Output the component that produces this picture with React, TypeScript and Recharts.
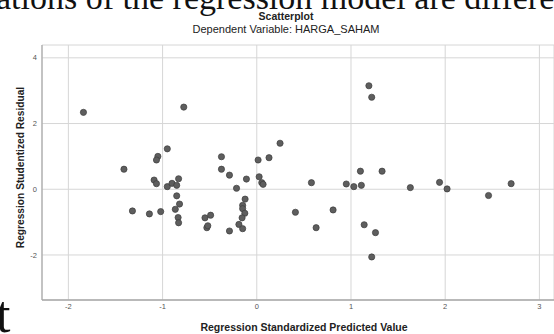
import { ScatterChart, Scatter, XAxis, YAxis, CartesianGrid } from 'recharts';

// regression standardized predicted value (x) and studentized residual (y), one entry per case
const predicted = [
  -1.84, -0.775, -1.41, -1.32, -1.14, -1.02, -1.09, -1.065, -1.05, -1.065,
  -0.95, -0.95, -0.9, -0.85, -0.83, -0.85, -0.82, -0.865, -0.835, -0.83,
  -0.55, -0.49, -0.53, -0.52, -0.375, -0.375, -0.29, -0.11, -0.215, -0.29,
  -0.19, -0.15, -0.124, -0.15, -0.15, -0.127, -0.156, 0.014, 0.13, 0.247,
  0.025, 0.053, 0.067, 0.41, 0.58, 0.63, 0.81, 0.95, 1.03, 1.11,
  1.1, 1.33, 1.19, 1.22, 1.14, 1.26, 1.22, 1.63, 1.94, 2.02,
  2.46, 2.7,
];
const residual = [
  2.34, 2.5, 0.61, -0.66, -0.75, -0.68, 0.28, 0.17, 1.0, 0.89,
  1.23, 0.08, 0.18, 0.12, 0.32, -0.2, -0.45, -0.61, -0.86, -1.02,
  -0.87, -0.79, -1.17, -1.11, 0.99, 0.61, 0.43, 0.31, 0.03, -1.27,
  -1.07, -1.2, -0.3, -0.49, -0.59, -0.73, -0.87, 0.89, 0.96, 1.4,
  0.38, 0.2, 0.15, -0.7, 0.2, -1.17, -0.63, 0.16, 0.08, 0.12,
  0.55, 0.55, 3.15, 2.8, -1.08, -1.32, -2.06, 0.05, 0.21, 0.01,
  -0.19, 0.17,
];
const xTicks = [-2, -1, 0, 1, 2, 3];
const yTicks = [-2, 0, 2, 4];

const data = predicted.map((x, i) => ({ x, y: residual[i] }));

const font = '"Liberation Sans", Arial, sans-serif';
const serif = '"Liberation Serif", "Times New Roman", serif';

function Dot(props: any) {
  const { cx, cy } = props;
  return <circle cx={cx} cy={cy} r={3.1} fill="#5e5e5e" stroke="#3c3c3c" strokeWidth={0.7} />;
}

export default function App() {
  return (
    <div style={{ position: 'absolute', left: 0, top: 0, width: 554, height: 334, overflow: 'hidden', background: '#fff' }}>
      <ScatterChart width={554} height={334} margin={{ top: 45, right: 0, bottom: 0, left: 0 }}>
        <CartesianGrid stroke="#d6d6d6" fill="none" />
        <XAxis
          type="number"
          dataKey="x"
          domain={[-2.28, 3.155]}
          ticks={xTicks}
          allowDataOverflow
          height={34}
          tickLine={false}
          tickSize={4}
          tickMargin={0}
          axisLine={{ stroke: '#a8a8a8', strokeWidth: 1.5 }}
          tick={{ fontSize: 7.5, fill: '#555', fontFamily: font }}
        />
        <YAxis
          type="number"
          dataKey="y"
          domain={[-3.37, 4.39]}
          ticks={yTicks}
          allowDataOverflow
          width={42}
          tickLine={false}
          tickSize={5}
          tickMargin={0}
          axisLine={{ stroke: '#a8a8a8', strokeWidth: 1.2 }}
          tick={{ fontSize: 7.5, fill: '#555', fontFamily: font }}
        />
        <Scatter data={data} shape={<Dot />} isAnimationActive={false} />
      </ScatterChart>
      <svg width={554} height={334} style={{ position: 'absolute', left: 0, top: 0, pointerEvents: 'none' }}>
        <text x={-4} y={9} fontFamily={serif} fontSize={34} fill="#111">
          ations of the regression model are different
        </text>
        <text x={-4} y={332} fontFamily={serif} fontSize={52} fill="#111">
          t
        </text>
        <text x={286} y={19.5} textAnchor="middle" fontFamily={font} fontSize={10.5} fontWeight="bold" fill="#222">
          Scatterplot
        </text>
        <text x={286} y={33} textAnchor="middle" fontFamily={font} fontSize={11} fill="#222">
          Dependent Variable: HARGA_SAHAM
        </text>
        <text x={304} y={331} textAnchor="middle" fontFamily={font} fontSize={10.5} fontWeight="bold" fill="#222">
          Regression Standardized Predicted Value
        </text>
        <text
          x={0}
          y={0}
          transform="translate(24,167.5) rotate(-90)"
          textAnchor="middle"
          fontFamily={font}
          fontSize={10.2}
          fontWeight="bold"
          fill="#222"
        >
          Regression Studentized Residual
        </text>
      </svg>
    </div>
  );
}
